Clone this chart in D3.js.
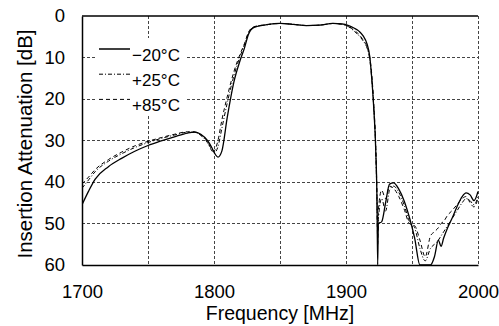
<!DOCTYPE html>
<html>
<head>
<meta charset="utf-8">
<script src="https://cdn.jsdelivr.net/npm/d3@7"></script>
<style>
  html, body { margin: 0; padding: 0; background: #fff; }
  svg { display: block; font-family: Arial, "Liberation Sans", sans-serif; }
</style>
</head>
<body>
<svg id="chart" width="499" height="326"></svg>
<script>
// frequency grid [MHz], shared by the three temperature traces
const freq = [1700, 1705, 1710, 1720, 1730, 1740, 1750, 1760, 1770, 1780, 1785, 1790, 1795, 1798, 1800,
  1803, 1806, 1810, 1815, 1820, 1823, 1826, 1830, 1840, 1850, 1860, 1870, 1880, 1890, 1897, 1902,
  1906, 1910, 1913, 1916, 1918, 1919.5, 1921, 1922.5, 1923.5, 1924, 1924.5, 1927, 1930, 1933, 1936,
  1940, 1944, 1948, 1952, 1956, 1960, 1964, 1967, 1970, 1972, 1974, 1977, 1980, 1984, 1988, 1991,
  1994, 1997, 2000]

// insertion attenuation [dB]
const attM20 = [45.5, 42.2, 39.3, 36.3, 34.3, 32.6, 31.2, 30.1, 29.1, 28.2, 28.0, 28.5, 30.0, 31.5, 32.8,
  34.0, 32.5, 24.5, 16.0, 10.5, 7.8, 4.5, 2.8, 2.1, 1.8, 2.0, 2.3, 2.2, 1.8, 1.9, 2.3,
  2.9, 3.7, 4.8, 6.8, 9.8, 15, 22, 32, 45, 60, 50, 49.6, 45, 40.5, 40.2,
  41.7, 44.5, 48.5, 53.5, 60, 60, 60, 58, 54, 55.5, 53.5, 51, 49, 46, 43.5, 42.6,
  43.1, 44.5, 42.3]
const attP25 = [41.5, 39.5, 37.5, 35.0, 33.2, 31.7, 30.5, 29.5, 28.7, 28.0, 28.0, 28.8, 30.5, 32.3, 33.0,
  31.5, 27.0, 21.0, 14.5, 9.5, 7.0, 4.2, 2.7, 2.1, 1.8, 2.0, 2.3, 2.2, 1.8, 2.0, 2.6,
  3.6, 4.8, 6.0, 7.8, 10.5, 15, 22, 32, 45, 52, 49, 44, 47, 42, 41,
  42.5, 45.5, 49.5, 51, 56, 59, 56, 55, 54, 53, 52, 50.5, 49, 47, 45, 44,
  44.5, 45.5, 43.5]
const attP85 = [40.5, 38.8, 37.0, 34.6, 32.8, 31.3, 30.2, 29.3, 28.5, 27.9, 27.9, 28.6, 30.2, 32.0, 32.5,
  30.0, 25.0, 19.5, 13.5, 9.0, 6.7, 4.0, 2.6, 2.1, 1.8, 2.0, 2.3, 2.2, 1.8, 2.0, 2.5,
  3.4, 4.5, 5.8, 7.5, 10.0, 14, 21, 31, 44, 55, 47, 42, 44, 41, 41.5,
  43.5, 46.5, 50, 50.5, 54, 58, 53, 52, 51, 50, 49.5, 48, 47, 45.5, 44, 43.5,
  45, 46, 44]

const seriesNames = ['\u221220\u00b0C', '+25\u00b0C', '+85\u00b0C']
const seriesDash = [null, '4,2,1,2', '4,3']
const xTicks = [1700, 1800, 1900, 2000]
const xGrid = [1750, 1800, 1850, 1900, 1950, 2000]
const yTicks = [0, 10, 20, 30, 40, 50, 60]

const plotLeft = 82, plotRight = 478, plotTop = 16, plotBottom = 265

let svg = d3.select('#chart')

let xScale = d3.scaleLinear().domain([1700, 2000]).range([plotLeft, plotRight])
let yScale = d3.scaleLinear().domain([0, 60]).range([plotTop, plotBottom])

svg.append('defs').append('clipPath').attr('id', 'plotClip')
  .append('rect')
  .attr('x', plotLeft).attr('y', plotTop)
  .attr('width', plotRight - plotLeft).attr('height', plotBottom - plotTop)

// grid
let grid = svg.append('g').classed('grid', true)
grid.selectAll('line.gx')
  .data(xGrid)
  .enter().append('line')
  .attr('x1', d => xScale(d)).attr('x2', d => xScale(d))
  .attr('y1', plotTop).attr('y2', plotBottom)
grid.selectAll('line.gy')
  .data(yTicks.filter(d => d > 0 && d < 60))
  .enter().append('line')
  .attr('x1', plotLeft).attr('x2', plotRight)
  .attr('y1', d => yScale(d)).attr('y2', d => yScale(d))
grid.selectAll('line')
  .style('stroke', '#444')
  .style('stroke-width', 1)
  .style('stroke-dasharray', '3,2')
  .attr('shape-rendering', 'crispEdges')

// curves
let lineGenerator = d3.line()
  .x((d, i) => xScale(freq[i]))
  .y(d => yScale(d))
  .curve(d3.curveMonotoneX)

let curves = svg.append('g').attr('clip-path', 'url(#plotClip)')
;[attM20, attP25, attP85].forEach((vals, k) => {
  curves.append('path')
    .attr('d', lineGenerator(vals))
    .style('fill', 'none')
    .style('stroke', '#000')
    .style('stroke-width', k === 0 ? 1.3 : 1)
    .style('stroke-dasharray', seriesDash[k])
})

// frame
svg.append('line')
  .attr('x1', plotLeft).attr('x2', plotRight).attr('y1', plotTop).attr('y2', plotTop)
  .style('stroke', '#000').style('stroke-width', 1.5)
svg.append('g')
  .attr('transform', `translate(0, ${plotBottom})`)
  .call(d3.axisBottom(xScale).tickValues(xTicks).tickSize(0).tickPadding(20).tickFormat(d3.format('d')))
  .call(g => g.select('.domain').style('stroke-width', 1.5))
  .selectAll('text')
  .style('font-size', '18.5px')
  .style('font-family', 'inherit')
svg.append('g')
  .attr('transform', `translate(${plotLeft}, 0)`)
  .call(d3.axisLeft(yScale).tickValues(yTicks).tickSize(0).tickPadding(17))
  .call(g => g.select('.domain').style('stroke-width', 1.5))
  .selectAll('text')
  .style('font-size', '18.5px')
  .style('font-family', 'inherit')

// legend
let legend = svg.append('g').classed('legend', true)
legend.append('rect')
  .attr('x', 95).attr('y', 38).attr('width', 92).attr('height', 78)
  .style('fill', '#fff')
seriesNames.forEach((name, k) => {
  let ly = 49 + k * 25.2
  legend.append('line')
    .attr('x1', 99).attr('x2', 130).attr('y1', ly).attr('y2', ly)
    .style('stroke', '#000')
    .style('stroke-width', k === 0 ? 1.5 : 1)
    .style('stroke-dasharray', seriesDash[k])
  legend.append('text')
    .attr('x', 132).attr('y', ly + 11.5)
    .style('font-size', '17px')
    .text(name)
})

// axis titles
svg.append('text')
  .attr('x', 280).attr('y', 320)
  .attr('text-anchor', 'middle')
  .style('font-size', '19.5px')
  .text('Frequency [MHz]')
svg.append('text')
  .attr('transform', 'translate(32, 144) rotate(-90)')
  .attr('text-anchor', 'middle')
  .style('font-size', '20.5px')
  .text('Insertion Attenuation [dB]')
</script>
</body>
</html>
